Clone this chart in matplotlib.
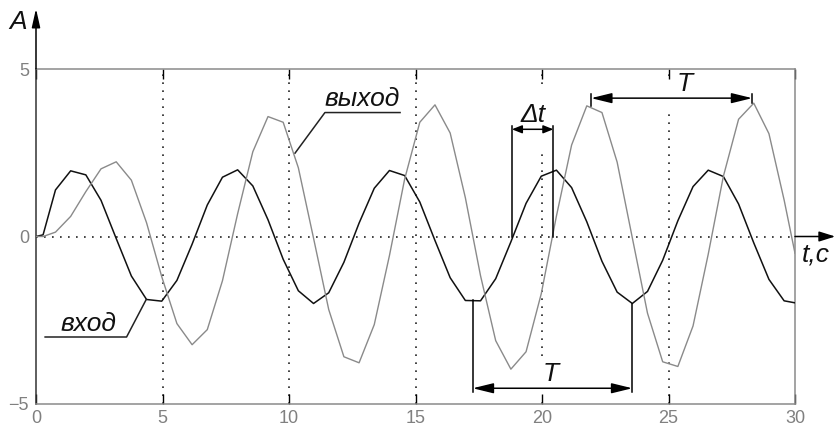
import matplotlib
matplotlib.use("Agg")
import matplotlib.pyplot as plt
from matplotlib.patches import Rectangle

# solver time points and the two signals
time = [0.0, 0.28, 0.77, 1.37, 1.97, 2.57, 3.17, 3.77, 4.37, 4.97, 5.57, 6.17,
        6.77, 7.37, 7.97, 8.57, 9.17, 9.77, 10.37, 10.97, 11.57, 12.17, 12.77,
        13.37, 13.97, 14.57, 15.17, 15.77, 16.37, 16.97, 17.57, 18.17, 18.77,
        19.37, 19.97, 20.57, 21.17, 21.77, 22.37, 22.97, 23.57, 24.17, 24.77,
        25.37, 25.97, 26.57, 27.17, 27.77, 28.37, 28.97, 29.57, 30.0]
vhod = [0.0, 0.05, 1.39, 1.96, 1.84, 1.08, -0.06, -1.18, -1.88, -1.93, -1.31,
        -0.23, 0.94, 1.77, 1.99, 1.51, 0.50, -0.68, -1.62, -2.00, -1.68, -0.77,
        0.40, 1.44, 1.97, 1.82, 1.03, -0.12, -1.23, -1.91, -1.92, -1.26, -0.16,
        0.99, 1.80, 1.98, 1.46, 0.44, -0.74, -1.66, -2.00, -1.64, -0.71, 0.47,
        1.49, 1.98, 1.79, 0.97, -0.19, -1.28, -1.92, -1.98]
vyhod = [0.0, 0.0, 0.13, 0.60, 1.34, 2.02, 2.23, 1.68, 0.41, -1.20, -2.60,
         -3.23, -2.78, -1.32, 0.68, 2.53, 3.58, 3.41, 2.05, -0.05, -2.18, -3.59,
         -3.77, -2.63, -0.57, 1.71, 3.41, 3.93, 3.09, 1.16, -1.17, -3.11, -3.96,
         -3.44, -1.71, 0.61, 2.73, 3.90, 3.70, 2.22, -0.04, -2.29, -3.74, -3.88,
         -2.67, -0.53, 1.80, 3.50, 3.98, 3.07, 1.09, -0.50]

xticks = [0, 5, 10, 15, 20, 25, 30]
yticks = [-5, 0, 5]

FONT = 'Liberation Sans'
plt.rcParams['font.family'] = [FONT, 'DejaVu Sans']

fig = plt.figure(figsize=(8.38, 4.28), dpi=100)
ax = fig.add_axes([36 / 838, 24 / 428, 759 / 838, 335 / 428])
ax.set_xlim(0, 30)
ax.set_ylim(-5, 5)

# dotted grid
dots = (0, (1, 3.8))
ax.vlines(xticks[1:-1], -5, 5, colors='#222222', linestyles=dots, lw=1.2, zorder=1)
ax.axhline(0, color='#222222', ls=dots, lw=1.2, zorder=1)

# white patches behind the labels that cut the grid
for x0, y0, w, h in [(18.9, 2.6, 1.5, 1.8), (24.6, 3.7, 1.9, 1.1), (19.5, -4.75, 1.8, 1.1)]:
    ax.add_patch(Rectangle((x0, y0), w, h, fc='white', ec='none', zorder=1.5))

ax.plot(time, vhod, color='#111111', lw=1.1, zorder=3)
ax.plot(time, vyhod, color='#8a8a8a', lw=1.0, zorder=3)

ax.set_xticks(xticks)
ax.set_yticks(yticks)
ax.tick_params(axis='x', direction='in', length=7, width=1, color='black', top=True,
               labelcolor='#808080', labelsize=13, pad=4)
ax.tick_params(axis='y', length=0, labelcolor='#808080', labelsize=13, pad=5)

for side in ['top', 'right', 'bottom']:
    ax.spines[side].set_color('#8a8a8a')
    ax.spines[side].set_linewidth(1.1)
ax.spines['left'].set_color('#333333')
ax.spines['left'].set_linewidth(1.1)

# axis arrows
ax.annotate('', xy=(0, 1.18), xycoords='axes fraction', xytext=(0, 1.0),
            arrowprops=dict(arrowstyle='-|>,head_length=0.8,head_width=0.18', color='black',
                            lw=1.1, shrinkA=0, shrinkB=0, mutation_scale=14),
            annotation_clip=False)
ax.annotate('', xy=(1.053, 0), xycoords=('axes fraction', 'data'), xytext=(1.0, 0),
            arrowprops=dict(arrowstyle='-|>,head_length=0.7,head_width=0.22', color='black',
                            lw=1.1, shrinkA=0, shrinkB=0, mutation_scale=14),
            annotation_clip=False)
ax.text(-0.024, 1.14, 'A', transform=ax.transAxes, ha='center', va='center',
        fontsize=19, fontstyle='italic', color='#111111')
ax.text(1.027, -0.55, 't,c', transform=ax.get_yaxis_transform(), ha='center', va='center',
        fontsize=19, fontstyle='italic', color='#111111')

# labels with leaders
ax.plot([10.24, 11.42, 14.39], [2.49, 3.70, 3.70], color='#222222', lw=1.1, zorder=4)
ax.text(12.9, 3.74, 'выход', ha='center', va='bottom', fontsize=19, fontstyle='italic',
        color='#111111')
ax.plot([4.35, 3.58, 0.36], [-1.89, -3.0, -3.0], color='#222222', lw=1.1, zorder=4)
ax.text(2.07, -2.96, 'вход', ha='center', va='bottom', fontsize=19, fontstyle='italic',
        color='#111111')

# delta t
ax.plot([18.81, 18.81], [0, 3.3], color='black', lw=1.1, zorder=4)
ax.plot([20.45, 20.45], [0, 3.3], color='black', lw=1.1, zorder=4)
ax.annotate('', xy=(18.81, 3.2), xytext=(20.45, 3.2),
            arrowprops=dict(arrowstyle='<|-|>,head_length=0.5,head_width=0.2', color='black',
                            lw=1.1, shrinkA=0, shrinkB=0, mutation_scale=12), zorder=4)
ax.text(19.63, 3.28, 'Δt', ha='center', va='bottom', fontsize=19, fontstyle='italic',
        color='#111111', zorder=4)

# period at the top (output)
ax.plot([21.94, 21.94], [3.9, 4.25], color='black', lw=1.1, zorder=4)
ax.plot([28.31, 28.31], [3.98, 4.25], color='black', lw=1.1, zorder=4)
ax.annotate('', xy=(21.94, 4.13), xytext=(28.31, 4.13),
            arrowprops=dict(arrowstyle='<|-|>,head_length=0.9,head_width=0.22', color='black',
                            lw=1.1, shrinkA=0, shrinkB=0, mutation_scale=14), zorder=4)
ax.text(25.65, 4.2, 'T', ha='center', va='bottom', fontsize=19, fontstyle='italic',
        color='#111111', zorder=4)

# period at the bottom (input)
ax.plot([17.26, 17.26], [-1.91, -4.63], color='black', lw=1.1, zorder=4)
ax.plot([23.57, 23.57], [-2.0, -4.63], color='black', lw=1.1, zorder=4)
ax.annotate('', xy=(17.26, -4.53), xytext=(23.57, -4.53),
            arrowprops=dict(arrowstyle='<|-|>,head_length=0.9,head_width=0.22', color='black',
                            lw=1.1, shrinkA=0, shrinkB=0, mutation_scale=14), zorder=4)
ax.text(20.36, -4.45, 'T', ha='center', va='bottom', fontsize=19, fontstyle='italic',
        color='#111111', zorder=4)

fig.savefig('out.png', dpi=100, facecolor='white')
